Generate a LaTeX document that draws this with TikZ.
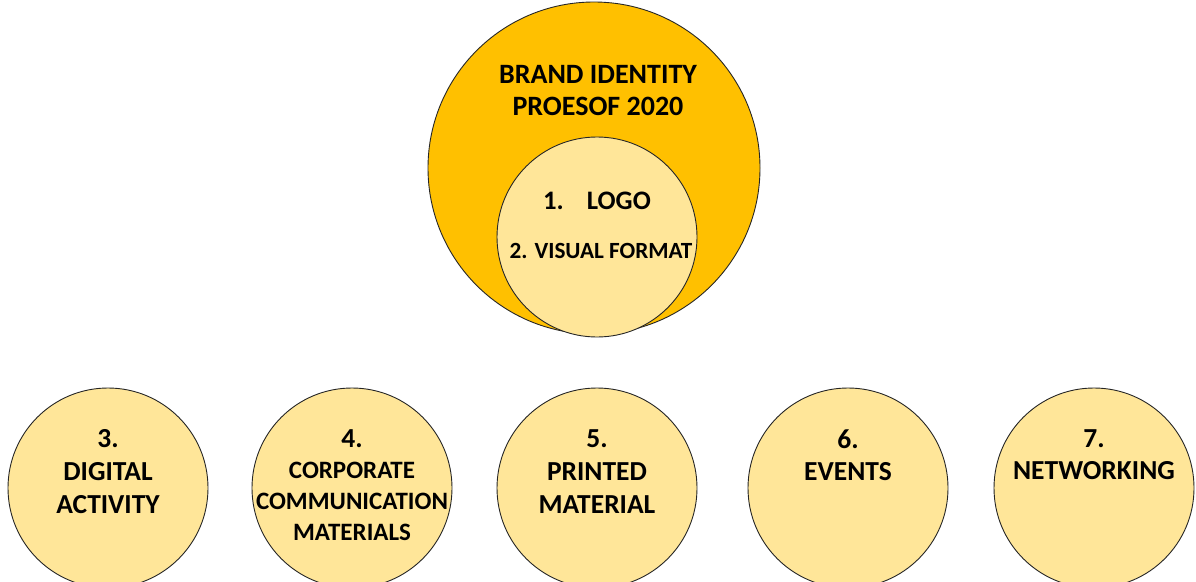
\documentclass[tikz,border=0pt]{standalone}
\usepackage{fontspec}
\setmainfont{Carlito}
\usepackage{tikz}
\usetikzlibrary{positioning}
\definecolor{pgold}{HTML}{FFC000}
\definecolor{plight}{HTML}{FFE699}

\begin{document}
\begin{tikzpicture}[x=1pt,y=-1pt,
    bubble/.style={circle,draw=black!85,line width=0.9pt,fill=plight,
                   minimum size=200pt,inner sep=0pt},
    tag/.style={anchor=north,align=center,inner sep=0pt,
                font=\bfseries\fontsize{27.5}{33}\selectfont}]
  \useasboundingbox (0,0) rectangle (1196,581);
  % big ring with the logo circle sitting in it
  \node[bubble,fill=pgold,minimum size=332pt] (brand) at (594,168) {};
  \node[bubble] (logo) at (597,237) {};
  \node[tag,font=\bfseries\fontsize{28}{32}\selectfont] (brandtxt) at (598,65)
    {BRAND IDENTITY\\PROESOF 2020};
  \node[tag,font=\bfseries\fontsize{26.7}{30}\selectfont] (logotxt) at (597,192)
    {1.\hspace{23pt}LOGO};
  \node[tag,font=\bfseries\fontsize{23.2}{28}\selectfont] (formattxt) at (601,243)
    {2. VISUAL FORMAT};

  % the row of work areas
  \node[bubble] (c3) at (108,488) {};
  \node[bubble] (c4) at (352,488) {};
  \node[bubble] (c5) at (597,488) {};
  \node[bubble] (c6) at (848,488) {};
  \node[bubble] (c7) at (1094,488) {};

  \node[tag,below=42pt of c3.north] (t3) {3.\\DIGITAL\\ACTIVITY};
  \node[tag,below=42pt of c4.north,font=\bfseries\fontsize{25}{31}\selectfont] (t4)
    {{\fontsize{27.5}{31}\selectfont 4.}\\CORPORATE\\COMMUNICATION\\MATERIALS};
  \node[tag,below=42pt of c5.north] (t5) {5.\\PRINTED\\MATERIAL};
  \node[tag,below=42pt of c6.north,font=\bfseries\fontsize{27.5}{32}\selectfont] (t6) {6.\\EVENTS};
  \node[tag,below=42pt of c7.north,font=\bfseries\fontsize{27.5}{32}\selectfont] (t7) {7.\\NETWORKING};
\end{tikzpicture}
\end{document}
